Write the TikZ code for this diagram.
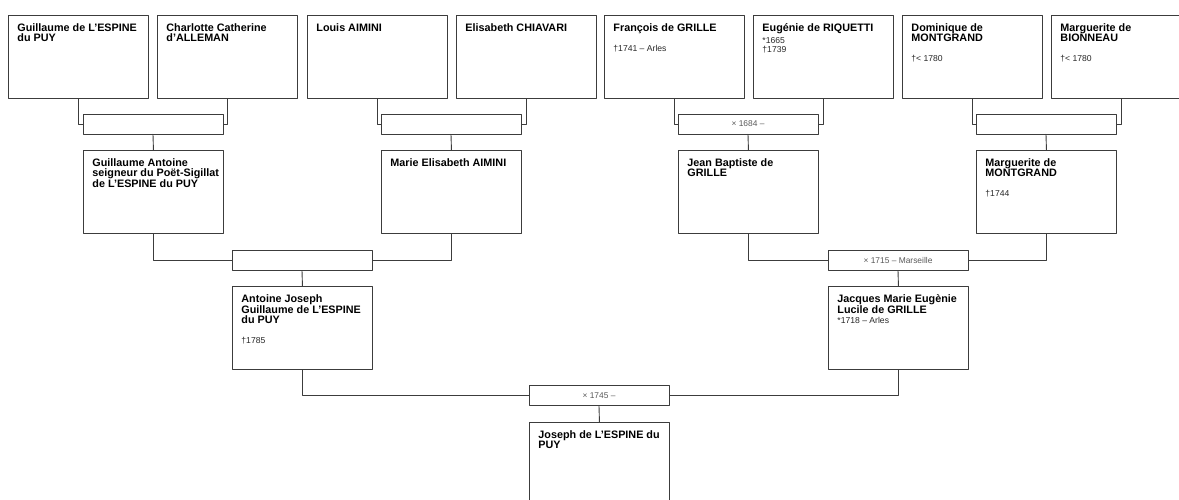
\documentclass[tikz,border=0pt]{standalone}
\usepackage{fontspec}
\setmainfont{Liberation Sans}
\usepackage{tikz}

\definecolor{linegray}{RGB}{60,60,60}
\definecolor{infogray}{RGB}{40,40,40}
\definecolor{marrgray}{RGB}{90,90,90}

\newcommand{\namefont}{\fontsize{10.8}{10}\selectfont\bfseries}
\newcommand{\infofont}{\fontsize{8.6}{9}\selectfont\mdseries\color{infogray}}
\newcommand{\info}[2]{\par\vspace{#1}{\infofont #2\par}}
\newcommand{\person}[4]{%
	\node[pbox] (#1) at (#2,#3)
		{\hspace*{9pt}\parbox[t][67pt][t]{131pt}{\namefont\raggedright\rule{0pt}{8pt}#4}};}

\begin{document}
\begin{tikzpicture}[x=1pt, y=-1pt, line cap=round, line join=round,
	pbox/.style={draw=linegray, line width=0.9pt, fill=white, anchor=north west,
		inner xsep=0pt, inner ysep=8pt, minimum width=140pt, minimum height=83pt},
	mbox/.style={draw=linegray, line width=0.9pt, fill=white, inner sep=0pt,
		minimum width=140pt, minimum height=20pt, text=marrgray,
		font=\fontsize{8.4}{9}\selectfont},
	link/.style={draw=linegray, line width=0.9pt}]

\clip (0,0) rectangle (1179,500);

% great-grandparents
\person{gui}{8}{15}{Guillaume de L'ESPINE\\du PUY}
\person{cha}{157}{15}{Charlotte Catherine\\d'ALLEMAN}
\person{lou}{307}{15}{Louis AIMINI}
\person{eli}{456}{15}{Elisabeth CHIAVARI}
\person{fra}{604}{15}{François de GRILLE\info{11pt}{†1741 – Arles}}
\person{eug}{753}{15}{Eugénie de RIQUETTI\info{3pt}{*1665\\†1739}}
\person{dom}{902}{15}{Dominique de\\MONTGRAND\info{11pt}{†< 1780}}
\person{mab}{1051}{15}{Marguerite de\\BIONNEAU\info{11pt}{†< 1780}}

\node[mbox] (mgc) at (153,124) {};
\node[mbox] (mle) at (451,124) {};
\node[mbox] (mfe) at (748,124) {× 1684 –};
\node[mbox] (mdm) at (1046,124) {};

% grandparents
\person{gat}{83}{150}{Guillaume Antoine\\seigneur du Poët-Sigillat\\de L'ESPINE du PUY}
\person{mea}{381}{150}{Marie Elisabeth AIMINI}
\person{jbg}{678}{150}{Jean Baptiste de\\GRILLE}
\person{mmo}{976}{150}{Marguerite de\\MONTGRAND\info{11pt}{†1744}}

\node[mbox] (mgm) at (302,260) {};
\node[mbox] (mjm) at (898,260) {× 1715 – Marseille};

% parents
\person{ajg}{232}{286}{Antoine Joseph\\Guillaume de L'ESPINE\\du PUY\info{11pt}{†1785}}
\person{jml}{828}{286}{Jacques Marie Eugènie\\Lucile de GRILLE\info{1pt}{*1718 – Arles}}

\node[mbox] (maj) at (599,395.5) {× 1745 –};

\person{jos}{529}{422}{Joseph de L'ESPINE du\\PUY}

% couples and children
\foreach \p/\q/\m/\c in {gui/cha/mgc/gat, lou/eli/mle/mea, fra/eug/mfe/jbg,
		dom/mab/mdm/mmo, gat/mea/mgm/ajg, jbg/mmo/mjm/jml, ajg/jml/maj/jos} {
	\draw[link] (\p.south) |- (\m.west);
	\draw[link] (\q.south) |- (\m.east);
	\draw[link] (\m.south) -- (\c.north);
}

\end{tikzpicture}
\end{document}
